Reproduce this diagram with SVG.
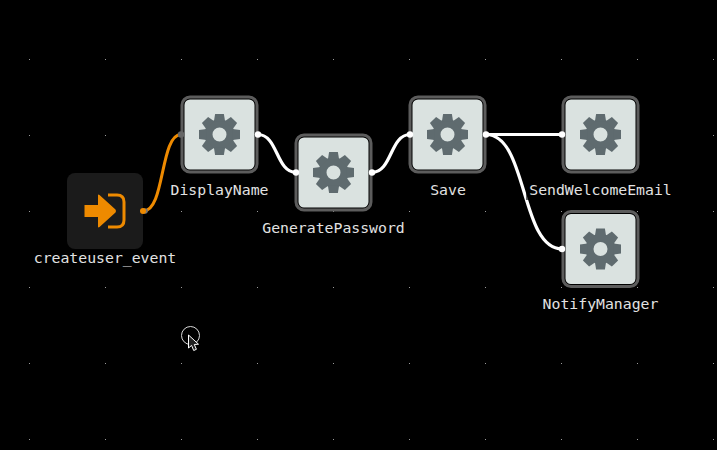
<svg xmlns="http://www.w3.org/2000/svg" xmlns:xlink="http://www.w3.org/1999/xlink" width="717" height="450" viewBox="0 0 717 450">
<style>
text{font-family:"DejaVu Sans Mono","Liberation Mono",monospace;font-size:14.8px;fill:#e2e2e2;text-anchor:middle}
.frame{fill:#dae2e0;stroke:#000;stroke-width:3}
.outer{fill:none;stroke:#5c5c5c;stroke-width:3}
.edge{fill:none;stroke:#fff;stroke-width:3.200}
.port{fill:#fff}
.grid{fill:#9a9a9a}
</style>
<defs>
<pattern id="dots" width="76" height="76" patternUnits="userSpaceOnUse" x="-47" y="-17">
<rect x="0" y="0" width="1" height="1" class="grid"/>
</pattern>
<g id="gear">
<circle r="11" fill="none" stroke="#5f6b6f" stroke-width="8"/>
<g fill="#5f6b6f">
<path id="tooth" d="M-5.600 -13 L-4.400 -20.500 H4.400 L5.600 -13 Z"/>
<use xlink:href="#tooth" href="#tooth" transform="rotate(45)"/>
<use xlink:href="#tooth" href="#tooth" transform="rotate(90)"/>
<use xlink:href="#tooth" href="#tooth" transform="rotate(135)"/>
<use xlink:href="#tooth" href="#tooth" transform="rotate(180)"/>
<use xlink:href="#tooth" href="#tooth" transform="rotate(225)"/>
<use xlink:href="#tooth" href="#tooth" transform="rotate(270)"/>
<use xlink:href="#tooth" href="#tooth" transform="rotate(315)"/>
</g>
</g>
<g id="box">
<rect x="-36.500" y="-36.500" width="73" height="73" rx="7" class="frame"/>
<rect x="-37.500" y="-37.500" width="75" height="75" rx="8" class="outer"/>
<use xlink:href="#gear" href="#gear"/>
</g>
</defs>
<rect width="717" height="450" fill="#000"/>
<rect width="717" height="450" fill="url(#dots)"/>
<g id="connectors">
<path d="M143.500 211 C165 211 160 134.500 181 134.500" fill="none" stroke="#ee8a00" stroke-width="3"/>
<path class="edge" d="M258 134.500 C278 134.500 276 172.500 296 172.500"/>
<path class="edge" d="M372 172.500 C392 172.500 390 134.500 410 134.500"/>
<path class="edge" d="M486 134.500 H562"/>
<path class="edge" d="M486 134.500 C528 134.500 520 249 562 249"/>
</g>
<g id="createuser_event">
<rect x="67" y="173" width="76" height="76" rx="8" fill="#1b1b1b"/>
<path fill="#ee8a00" d="M84.500 205 H98 V195.500 Q98 194 99.500 195 L115.500 209.500 Q116.500 211 115.500 212.500 L99.500 227 Q98 228 98 226.500 V217 H84.500 Z"/>
<path fill="none" stroke="#ee8a00" stroke-width="3" d="M108 195 H117 Q124 195 124 202 V220 Q124 227 117 227 H108"/>
<circle cx="145" cy="211" r="2.800" fill="#777"/>
<circle cx="143" cy="211" r="3" fill="#ee8a00"/>
<text x="105" y="262.500">createuser_event</text>
</g>
<g id="DisplayName">
<use xlink:href="#box" href="#box" transform="translate(219.500,134.500)"/>
<circle cx="181" cy="134.500" r="3.200" fill="#666"/>
<circle cx="258" cy="134.500" r="3.200" class="port"/>
<text x="219.500" y="194.500">DisplayName</text>
</g>
<g id="GeneratePassword">
<use xlink:href="#box" href="#box" transform="translate(333.500,172.500)"/>
<circle cx="296" cy="172.500" r="3.200" class="port"/>
<circle cx="372" cy="172.500" r="3.200" class="port"/>
<text x="333.500" y="232.500">GeneratePassword</text>
</g>
<g id="Save">
<use xlink:href="#box" href="#box" transform="translate(447.500,134.500)"/>
<circle cx="410" cy="134.500" r="3.200" class="port"/>
<circle cx="486" cy="134.500" r="3.200" class="port"/>
<text x="448" y="194.500">Save</text>
</g>
<g id="SendWelcomeEmail">
<use xlink:href="#box" href="#box" transform="translate(600.500,134.500)"/>
<circle cx="562" cy="134.500" r="3.200" class="port"/>
<rect x="526" y="184" width="4" height="16" fill="#000" fill-opacity="0.6"/>
<text x="600.500" y="194.500">SendWelcomeEmail</text>
</g>
<g id="NotifyManager">
<use xlink:href="#box" href="#box" transform="translate(600.500,249)"/>
<circle cx="562" cy="249" r="3.200" class="port"/>
<text x="600.500" y="309">NotifyManager</text>
</g>
<g id="cursor">
<circle cx="190.500" cy="335.500" r="9" fill="none" stroke="#d8d8d8" stroke-width="1"/>
<path d="M188.500 335 V348 L191.600 345.400 L193.700 350.500 L196.400 349.300 L194.300 344.500 L198.500 344.200 Z" fill="#222" stroke="#fff" stroke-width="1"/>
</g>
</svg>
